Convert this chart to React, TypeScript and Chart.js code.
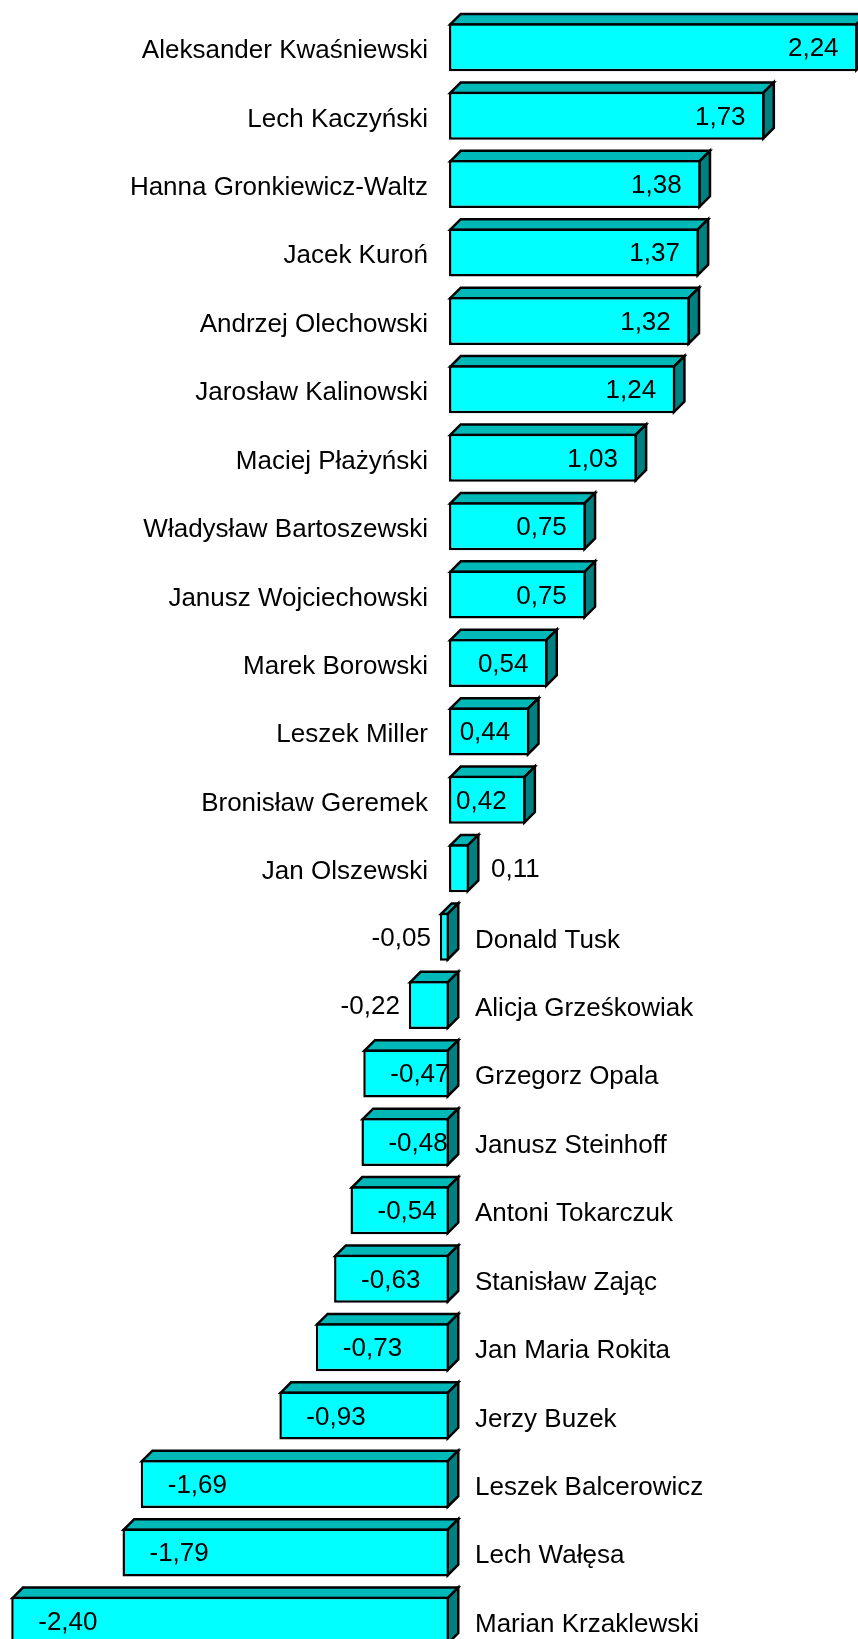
import React, { useEffect, useRef } from "react";
import { Chart, registerables } from "chart.js";

Chart.register(...registerables);

const names = [
  "Aleksander Kwaśniewski",
  "Lech Kaczyński",
  "Hanna Gronkiewicz-Waltz",
  "Jacek Kuroń",
  "Andrzej Olechowski",
  "Jarosław Kalinowski",
  "Maciej Płażyński",
  "Władysław Bartoszewski",
  "Janusz Wojciechowski",
  "Marek Borowski",
  "Leszek Miller",
  "Bronisław Geremek",
  "Jan Olszewski",
  "Donald Tusk",
  "Alicja Grześkowiak",
  "Grzegorz Opala",
  "Janusz Steinhoff",
  "Antoni Tokarczuk",
  "Stanisław Zając",
  "Jan Maria Rokita",
  "Jerzy Buzek",
  "Leszek Balcerowicz",
  "Lech Wałęsa",
  "Marian Krzaklewski",
];

const values = [
  2.24, 1.73, 1.38, 1.37, 1.32, 1.24, 1.03, 0.75, 0.75, 0.54, 0.44, 0.42, 0.11,
  -0.05, -0.22, -0.47, -0.48, -0.54, -0.63, -0.73, -0.93, -1.69, -1.79, -2.4,
];

const X_MIN = -2.4616;
const X_MAX = 2.2423;

const FRONT = "#00FFFF";
const TOP = "#00B8B8";
const SIDE = "#008080";
const DEPTH = 10.5;
const BW = 2.5;
const FONT = '26px "Liberation Sans", Arial, sans-serif';

const fmt = (v: number) => v.toFixed(2).replace(".", ",");

const facesPlugin = {
  id: "faces3d",
  beforeDatasetsDraw(chart: any) {
    const ctx = chart.ctx;
    const meta = chart.getDatasetMeta(0);
    ctx.save();
    ctx.lineWidth = BW;
    ctx.strokeStyle = "#000";
    ctx.lineJoin = "miter";
    meta.data.forEach((el: any) => {
      const p = el.getProps(["x", "y", "base", "height"], true);
      const h = BW / 2;
      const left = Math.min(p.x, p.base) + h;
      const right = Math.max(p.x, p.base) - h;
      const top = p.y - p.height / 2 + h;
      const bottom = p.y + p.height / 2 - h;
      const d = DEPTH;
      ctx.beginPath();
      ctx.moveTo(left, top);
      ctx.lineTo(left + d, top - d);
      ctx.lineTo(right + d, top - d);
      ctx.lineTo(right, top);
      ctx.closePath();
      ctx.fillStyle = TOP;
      ctx.fill();
      ctx.stroke();
      ctx.beginPath();
      ctx.moveTo(right, top);
      ctx.lineTo(right + d, top - d);
      ctx.lineTo(right + d, bottom - d);
      ctx.lineTo(right, bottom);
      ctx.closePath();
      ctx.fillStyle = SIDE;
      ctx.fill();
      ctx.stroke();
    });
    ctx.restore();
  },
  afterDatasetsDraw(chart: any) {
    const ctx = chart.ctx;
    const meta = chart.getDatasetMeta(0);
    const zero = chart.scales.x.getPixelForValue(0);
    ctx.save();
    ctx.font = FONT;
    ctx.fillStyle = "#000";
    ctx.textBaseline = "alphabetic";
    meta.data.forEach((el: any, i: number) => {
      const v = values[i];
      const p = el.getProps(["x", "y", "base", "height"], true);
      const left = Math.min(p.x, p.base);
      const right = Math.max(p.x, p.base);
      if (v >= 0) {
        ctx.textAlign = "right";
        ctx.fillText(names[i], zero - 21, p.y + 11);
      } else {
        ctx.textAlign = "left";
        ctx.fillText(names[i], zero + 26, p.y + 11);
      }
      const txt = fmt(v);
      const inside = Math.abs(v) >= 0.3;
      if (v >= 0) {
        if (inside) {
          ctx.textAlign = "right";
          ctx.fillText(txt, right - 19, p.y + 9);
        } else {
          ctx.textAlign = "left";
          ctx.fillText(txt, right + 22, p.y + 9);
        }
      } else {
        if (inside) {
          ctx.textAlign = "left";
          ctx.fillText(txt, left + 27, p.y + 9);
        } else {
          ctx.textAlign = "right";
          ctx.fillText(txt, left - 9, p.y + 9);
        }
      }
    });
    ctx.restore();
  },
};

export default function App() {
  const ref = useRef<HTMLCanvasElement | null>(null);
  useEffect(() => {
    if (!ref.current) return;
    const chart = new Chart(ref.current, {
      type: "bar",
      data: {
        labels: names,
        datasets: [
          {
            data: values,
            backgroundColor: FRONT,
            borderColor: "#000",
            borderWidth: BW,
            borderSkipped: false,
            barThickness: 48,
            inflateAmount: 0,
          } as any,
        ],
      },
      options: {
        indexAxis: "y",
        animation: false,
        responsive: false,
        maintainAspectRatio: false,
        layout: { padding: { top: 13, bottom: 0, left: 0, right: 0 } },
        plugins: {
          legend: { display: false },
          tooltip: { enabled: false },
        },
        scales: {
          x: { display: false, min: X_MIN, max: X_MAX },
          y: { display: false },
        },
      },
      plugins: [facesPlugin],
    });
    return () => chart.destroy();
  }, []);
  return (
    <div
      style={{
        position: "absolute",
        left: 0,
        top: 0,
        width: 858,
        height: 1639,
        overflow: "hidden",
        background: "#fff",
      }}
    >
      <canvas
        ref={ref}
        width={858}
        height={1655}
        style={{ display: "block", width: 858, height: 1655 }}
      />
    </div>
  );
}
